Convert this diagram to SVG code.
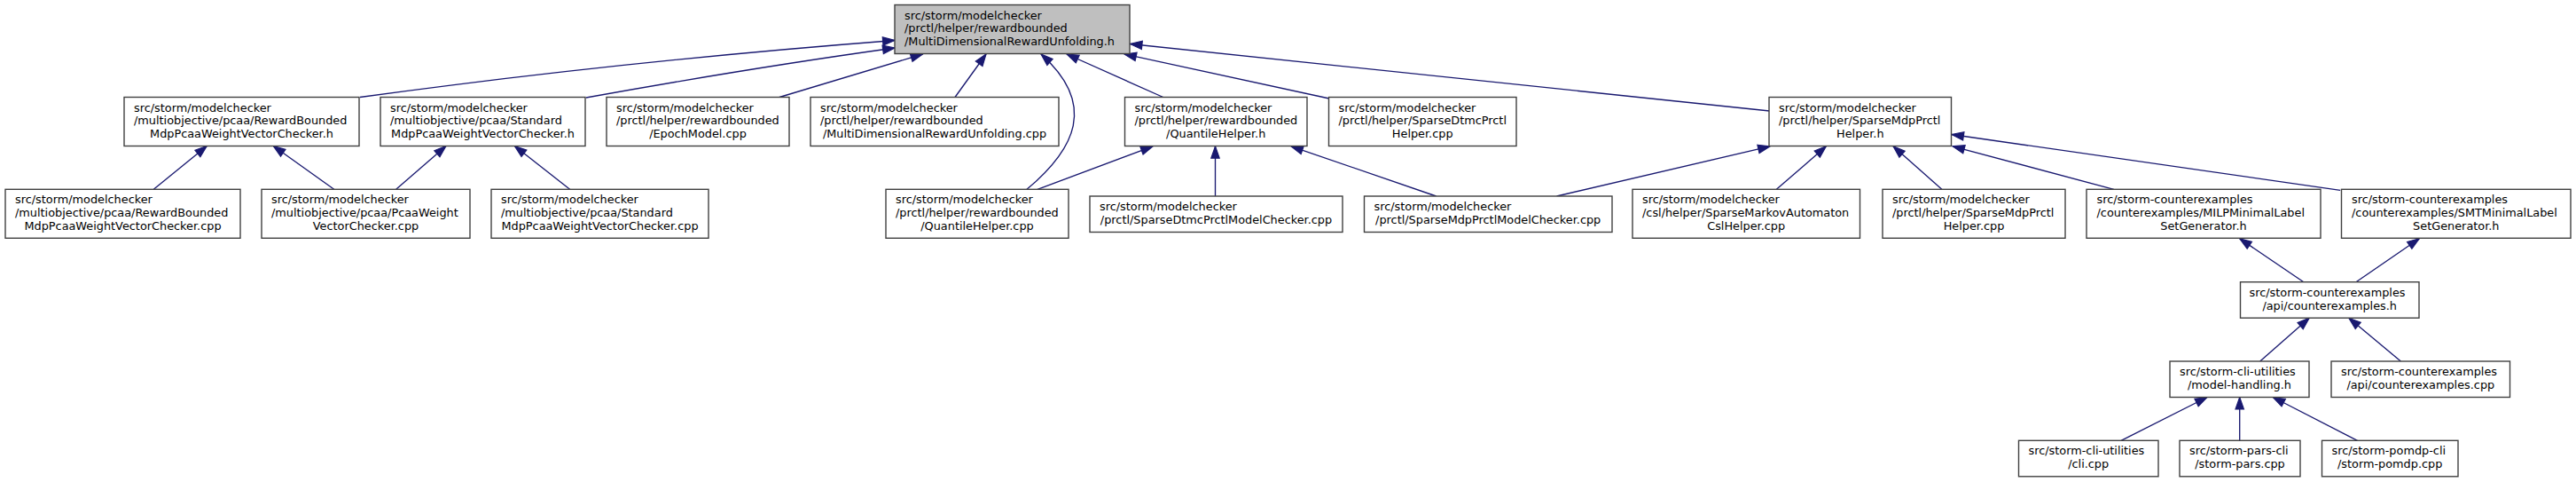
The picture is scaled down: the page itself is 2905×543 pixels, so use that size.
<svg xmlns="http://www.w3.org/2000/svg" width="2905" height="543" viewBox="0 0 2905 543">
<style>
rect.b{fill:#ffffff;stroke:#404040;stroke-width:1.4}
rect.m{fill:#bfbfbf;stroke:#404040;stroke-width:1.4}
text{font-family:"DejaVu Sans","Liberation Sans",sans-serif;font-size:12.85px;fill:#000}
text.c{text-anchor:middle}
#edges path{fill:none;stroke:#191970;stroke-width:1.35;marker-end:url(#ah)}
</style>
<defs>
<marker id="ah" markerUnits="userSpaceOnUse" markerWidth="16" markerHeight="12" refX="13.4" refY="4.7" orient="auto" overflow="visible">
<path d="M0,0 L13.4,4.7 L0,9.4 z" fill="#191970" stroke="#191970" stroke-width="1.2"/>
</marker>
</defs>
<rect x="0" y="0" width="2905" height="543" fill="#ffffff"/>
<g id="edges">
<path d="M406,109.5 Q700,69.3 1009,45.5"/>
<path d="M661,110 Q850,76 1009,54"/>
<path d="M879,109.5 L1040.5,61"/>
<path d="M1077,109.5 L1112,61"/>
<path d="M1158,213.3 C1212,168 1238,118 1174,61"/>
<path d="M1311.7,109.5 L1203,61"/>
<path d="M1499,111 L1268,61"/>
<path d="M1995.5,125 L1274.5,49.5"/>
<path d="M1170,213.3 L1300,164.8"/>
<path d="M1370.5,221 L1370.5,164.8"/>
<path d="M1619.6,221 L1456,164.8"/>
<path d="M1755.5,221 L1996,164.8"/>
<path d="M2003.4,213.3 L2059.4,164.8"/>
<path d="M2189.8,213.3 L2135,164.8"/>
<path d="M2383.8,213.3 L2202,164.8"/>
<path d="M2639.2,214.3 L2201,151.5"/>
<path d="M2597.5,317.5 L2525.7,268.8"/>
<path d="M2657.3,317.5 L2728.3,268.8"/>
<path d="M2548.7,407 L2604.2,358.3"/>
<path d="M2707.4,407 L2648.9,358.3"/>
<path d="M2392,496.3 L2489,447.5"/>
<path d="M2525.7,496.3 L2525.7,447.5"/>
<path d="M2658.5,496.3 L2563.3,447.5"/>
<path d="M173.3,213.3 L233.3,164.5"/>
<path d="M376.7,213.3 L308.3,164.5"/>
<path d="M446.7,213.3 L503,164.5"/>
<path d="M642.6,213.3 L580.4,164.5"/>
</g>
<g id="n_main"><rect class="m" x="1009" y="5.5" width="265" height="55"/>
<text x="1020" y="21.6">src/storm/modelchecker</text><text x="1020" y="36.4">/prctl/helper/rewardbounded</text><text x="1020" y="51.1">/MultiDimensionalRewardUnfolding.h</text></g>
<g id="n_A"><rect class="b" x="140" y="109.5" width="265" height="55"/>
<text x="151" y="125.6">src/storm/modelchecker</text><text x="151" y="140.4">/multiobjective/pcaa/RewardBounded</text><text class="c" x="272.5" y="155.1">MdpPcaaWeightVectorChecker.h</text></g>
<g id="n_B"><rect class="b" x="429" y="109.5" width="231" height="55"/>
<text x="440" y="125.6">src/storm/modelchecker</text><text x="440" y="140.4">/multiobjective/pcaa/Standard</text><text class="c" x="544.5" y="155.1">MdpPcaaWeightVectorChecker.h</text></g>
<g id="n_C"><rect class="b" x="684" y="109.5" width="206" height="55"/>
<text x="695" y="125.6">src/storm/modelchecker</text><text x="695" y="140.4">/prctl/helper/rewardbounded</text><text class="c" x="787" y="155.1">/EpochModel.cpp</text></g>
<g id="n_D"><rect class="b" x="914" y="109.5" width="280" height="55"/>
<text x="925" y="125.6">src/storm/modelchecker</text><text x="925" y="140.4">/prctl/helper/rewardbounded</text><text class="c" x="1054" y="155.1">/MultiDimensionalRewardUnfolding.cpp</text></g>
<g id="n_E"><rect class="b" x="1268.5" y="109.5" width="205.5" height="55"/>
<text x="1279.5" y="125.6">src/storm/modelchecker</text><text x="1279.5" y="140.4">/prctl/helper/rewardbounded</text><text class="c" x="1371.2" y="155.1">/QuantileHelper.h</text></g>
<g id="n_F"><rect class="b" x="1498.5" y="109.5" width="211.5" height="55"/>
<text x="1509.5" y="125.6">src/storm/modelchecker</text><text x="1509.5" y="140.4">/prctl/helper/SparseDtmcPrctl</text><text class="c" x="1604.2" y="155.1">Helper.cpp</text></g>
<g id="n_G"><rect class="b" x="1995" y="109.5" width="205.5" height="55"/>
<text x="2006" y="125.6">src/storm/modelchecker</text><text x="2006" y="140.4">/prctl/helper/SparseMdpPrctl</text><text class="c" x="2097.8" y="155.1">Helper.h</text></g>
<g id="n_H"><rect class="b" x="6" y="213.3" width="265" height="55"/>
<text x="17" y="229.4">src/storm/modelchecker</text><text x="17" y="244.2">/multiobjective/pcaa/RewardBounded</text><text class="c" x="138.5" y="258.9">MdpPcaaWeightVectorChecker.cpp</text></g>
<g id="n_I"><rect class="b" x="295" y="213.3" width="235" height="55"/>
<text x="306" y="229.4">src/storm/modelchecker</text><text x="306" y="244.2">/multiobjective/pcaa/PcaaWeight</text><text class="c" x="412.5" y="258.9">VectorChecker.cpp</text></g>
<g id="n_J"><rect class="b" x="554" y="213.3" width="245" height="55"/>
<text x="565" y="229.4">src/storm/modelchecker</text><text x="565" y="244.2">/multiobjective/pcaa/Standard</text><text class="c" x="676.5" y="258.9">MdpPcaaWeightVectorChecker.cpp</text></g>
<g id="n_K"><rect class="b" x="999" y="213.3" width="206" height="55"/>
<text x="1010" y="229.4">src/storm/modelchecker</text><text x="1010" y="244.2">/prctl/helper/rewardbounded</text><text class="c" x="1102" y="258.9">/QuantileHelper.cpp</text></g>
<g id="n_L"><rect class="b" x="1229" y="221" width="285" height="40.5"/>
<text x="1240" y="237.1">src/storm/modelchecker</text><text class="c" x="1371.5" y="251.9">/prctl/SparseDtmcPrctlModelChecker.cpp</text></g>
<g id="n_M"><rect class="b" x="1538.5" y="221" width="279.5" height="40.5"/>
<text x="1549.5" y="237.1">src/storm/modelchecker</text><text class="c" x="1678.2" y="251.9">/prctl/SparseMdpPrctlModelChecker.cpp</text></g>
<g id="n_N"><rect class="b" x="1841" y="213.3" width="256.5" height="55"/>
<text x="1852" y="229.4">src/storm/modelchecker</text><text x="1852" y="244.2">/csl/helper/SparseMarkovAutomaton</text><text class="c" x="1969.2" y="258.9">CslHelper.cpp</text></g>
<g id="n_O"><rect class="b" x="2123" y="213.3" width="206" height="55"/>
<text x="2134" y="229.4">src/storm/modelchecker</text><text x="2134" y="244.2">/prctl/helper/SparseMdpPrctl</text><text class="c" x="2226" y="258.9">Helper.cpp</text></g>
<g id="n_P"><rect class="b" x="2353" y="213.3" width="264" height="55"/>
<text x="2364.5" y="229.4">src/storm-counterexamples</text><text x="2364.5" y="244.2">/counterexamples/MILPMinimalLabel</text><text class="c" x="2485" y="258.9">SetGenerator.h</text></g>
<g id="n_Q"><rect class="b" x="2640.5" y="213.3" width="258.5" height="55"/>
<text x="2652" y="229.4">src/storm-counterexamples</text><text x="2652" y="244.2">/counterexamples/SMTMinimalLabel</text><text class="c" x="2769.8" y="258.9">SetGenerator.h</text></g>
<g id="n_R"><rect class="b" x="2526.5" y="317.7" width="201.5" height="40.5"/>
<text x="2536.5" y="333.8">src/storm-counterexamples</text><text class="c" x="2627.2" y="348.6">/api/counterexamples.h</text></g>
<g id="n_S"><rect class="b" x="2447" y="407" width="157" height="40.5"/>
<text x="2458" y="423.1">src/storm-cli-utilities</text><text class="c" x="2525.5" y="437.9">/model-handling.h</text></g>
<g id="n_T"><rect class="b" x="2629" y="407" width="201.5" height="40.5"/>
<text x="2640" y="423.1">src/storm-counterexamples</text><text class="c" x="2729.8" y="437.9">/api/counterexamples.cpp</text></g>
<g id="n_U"><rect class="b" x="2276.5" y="496.3" width="157.5" height="40.5"/>
<text x="2287.5" y="512.4">src/storm-cli-utilities</text><text class="c" x="2355.2" y="527.2">/cli.cpp</text></g>
<g id="n_V"><rect class="b" x="2458" y="496.3" width="136" height="40.5"/>
<text x="2469" y="512.4">src/storm-pars-cli</text><text class="c" x="2526" y="527.2">/storm-pars.cpp</text></g>
<g id="n_W"><rect class="b" x="2618.5" y="496.3" width="153.5" height="40.5"/>
<text x="2629.5" y="512.4">src/storm-pomdp-cli</text><text class="c" x="2695.2" y="527.2">/storm-pomdp.cpp</text></g>
</svg>
